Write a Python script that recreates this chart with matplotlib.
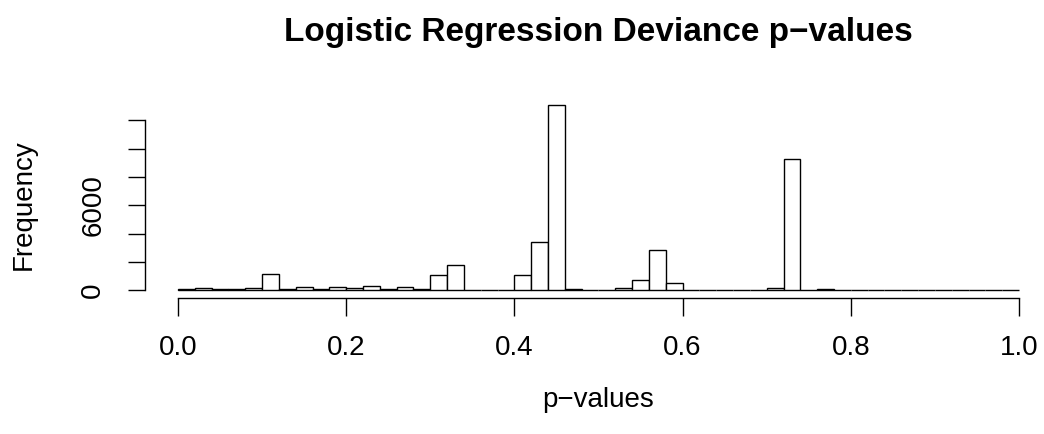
import numpy as np
import matplotlib
matplotlib.use('Agg')
import matplotlib.pyplot as plt

plt.rcParams['font.family'] = ['Liberation Sans', 'DejaVu Sans']

##########################
# histogram of p-values, breaks every 0.02 from 0 to 1
breaks = np.round(np.arange(0, 1.0001, 0.02), 2)
counts = [70, 190, 100, 70, 190, 1130, 70, 235, 70, 260,
          190, 280, 70, 210, 100, 1080, 1810, 40, 40, 40,
          1080, 3430, 13080, 60, 25, 25, 165, 700, 2860, 540,
          15, 15, 15, 15, 30, 165, 9240, 25, 80, 20,
          15, 10, 10, 12, 10, 15, 20, 15, 10, 12]
xticks = [0.0, 0.2, 0.4, 0.6, 0.8, 1.0]
xticklabels = ['0.0', '0.2', '0.4', '0.6', '0.8', '1.0']
yticks = [0, 2000, 4000, 6000, 8000, 10000, 12000]
yticklabels = ['0', '', '', '6000', '', '', '']
#######################

W, H = 1044, 434
fig = plt.figure(figsize=(W / 100, H / 100), dpi=100)
# plot region in pixels (R style, 4% extension)
left, right, top, bottom = 144.7, 1044.0, 97.6, 297.7
ax = fig.add_axes([left / W, 1 - bottom / H, (right - left) / W, (bottom - top) / H])

ax.bar(breaks[:-1], counts, width=0.02, align='edge', facecolor='white',
       edgecolor='black', linewidth=1.0)

x0, x1 = 178.0, 1019.0
ax.set_xlim((left - x0) / (x1 - x0), (right - x0) / (x1 - x0))
ymax = max(counts)
ax.set_ylim(-0.04 * ymax, 1.04 * ymax)

for s in ['top', 'right']:
    ax.spines[s].set_visible(False)
ax.spines['bottom'].set_bounds(0, 1)
ax.spines['left'].set_bounds(0, 12000)
ax.spines['bottom'].set_linewidth(1.0)
ax.spines['left'].set_linewidth(1.0)

ax.set_xticks(xticks)
ax.set_xticklabels(xticklabels)
ax.set_yticks(yticks)
ax.set_yticklabels(yticklabels, rotation=90, va='center')
ax.tick_params(axis='both', direction='out', length=12.6, width=1.0,
               labelsize=20, color='black')
ax.tick_params(axis='x', pad=14)
ax.tick_params(axis='y', pad=15)

fig.text(598.5 / W, 1 - 400 / H, 'p\u2212values', ha='center', va='center', fontsize=20)
fig.text(24 / W, 1 - 205 / H, 'Frequency', ha='center', va='center', fontsize=20, rotation=90)
fig.text(598.5 / W, 1 - 33 / H, 'Logistic Regression Deviance p\u2212values',
         ha='center', va='center', fontsize=24, fontweight='bold')

plt.savefig('out.png', dpi=100)
